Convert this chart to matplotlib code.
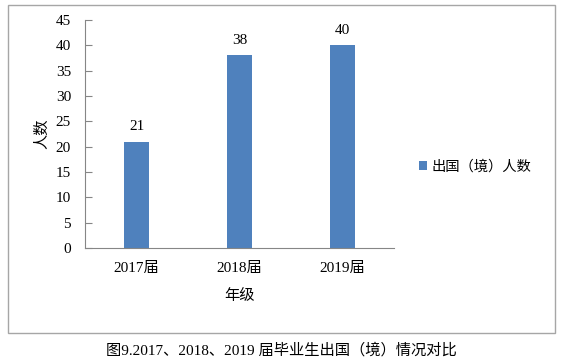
import matplotlib
matplotlib.use('Agg')
import matplotlib.pyplot as plt
from matplotlib.patches import Rectangle

# 数据
categories = ['2017届', '2018届', '2019届']
values = [21, 38, 40]
series_name = '出国（境）人数'
y_ticks = [0, 5, 10, 15, 20, 25, 30, 35, 40, 45]

plt.rcParams['font.family'] = ['Liberation Serif', 'Noto Sans CJK SC']
bar_color = '#4F81BD'
axis_color = '#868686'

fig = plt.figure(figsize=(5.61, 3.64), dpi=100)
ax = fig.add_axes([85 / 561, 1 - 248 / 364, (394 - 85) / 561, (248 - 20) / 364])

bars = ax.bar(range(len(categories)), values, width=0.25, color=bar_color, label=series_name)
for i, v in enumerate(values):
    ax.text(i, v + 1.6, str(v), ha='center', va='bottom', fontsize=11)

ax.set_xlim(-0.5, len(categories) - 0.5)
ax.set_ylim(0, 45)
ax.set_yticks(y_ticks)
ax.set_xticks(range(len(categories)))
ax.set_xticklabels(categories, fontsize=11)
ax.tick_params(axis='y', direction='in', length=5, color=axis_color, labelsize=11, pad=10)
ax.tick_params(axis='x', length=0, pad=10)
for s in ['top', 'right']:
    ax.spines[s].set_visible(False)
for s in ['left', 'bottom']:
    ax.spines[s].set_color(axis_color)

ax.set_ylabel('人数', fontsize=11, labelpad=5)
ax.set_xlabel('年级', fontsize=11, labelpad=10)

ax.legend(loc='center left', bbox_to_anchor=(406 / 561, 1 - 167 / 364), bbox_transform=fig.transFigure,
          frameon=False, fontsize=10.3, handlelength=0.6, handleheight=0.6, handletextpad=0.3)

# 外框
fig.patches.append(Rectangle((8 / 561, 1 - 333 / 364), (555 - 8) / 561, (333 - 5) / 364,
                             transform=fig.transFigure, fill=False, edgecolor='#A6A6A6', linewidth=1))

fig.text(281 / 561, 1 - 350 / 364, '图9.2017、2018、2019 届毕业生出国（境）情况对比',
         ha='center', va='center', fontsize=11)

fig.savefig('out.png', dpi=100)
